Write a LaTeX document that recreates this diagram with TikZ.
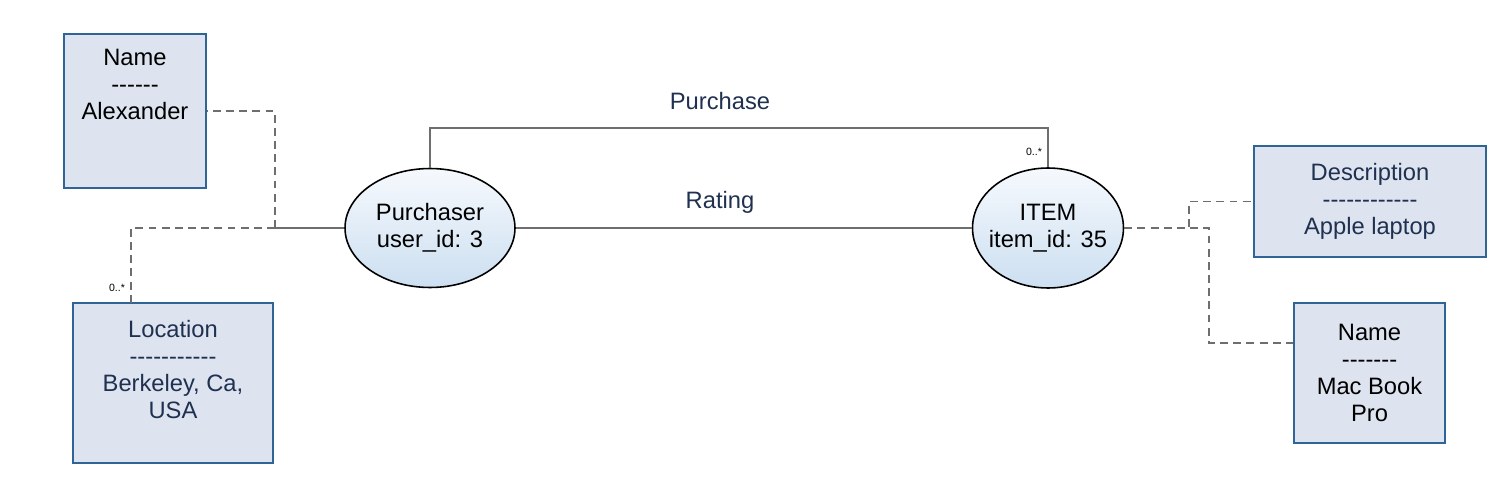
\documentclass[tikz,border=0pt]{standalone}
\usepackage{fontspec}
\setmainfont{Liberation Sans}[Ligatures=TeXOff]
\usetikzlibrary{shapes.geometric}
\definecolor{boxfill}{HTML}{DDE4EF}
\definecolor{boxline}{HTML}{2F6497}
\definecolor{navy}{HTML}{1F3050}
\definecolor{wire}{HTML}{6E6E6E}
\definecolor{ovaltop}{HTML}{F6F9FD}
\definecolor{ovalbot}{HTML}{CCDFF1}
\tikzset{
  attrbox/.style={draw=boxline, line width=1.1pt, fill=boxfill, align=center, inner sep=0pt},
  entity/.style={ellipse, draw=black, line width=0.9pt, top color=ovaltop, bottom color=ovalbot, align=center, inner xsep=-8pt, inner ysep=0pt},
  link/.style={draw=wire, line width=0.7pt},
  dashlink/.style={link, dash pattern=on 4.5pt off 3pt},
  mult/.style={font=\fontsize{6}{7}\selectfont, inner sep=0pt}
}
\begin{document}
\begin{tikzpicture}[x=0.02cm, y=-0.02cm, font=\fontsize{13.5}{15.3}\selectfont]
				\useasboundingbox (0,0) rectangle (1508,483);
				% entities
				\node[entity, minimum width=3.4cm, minimum height=2.38cm] (purchaser) at (430,228) {Purchaser\\user\_id: 3};
				\node[entity, minimum width=3.02cm, minimum height=2.4cm] (item) at (1048,228) {ITEM\\item\_id: 35};
				% attribute boxes
				\node[attrbox, minimum width=2.84cm, minimum height=3.08cm] (name) at (135,111) {Name\\------\\Alexander\\~\\~};
				\node[attrbox, minimum width=4cm, minimum height=3.2cm, text=navy] (location) at (173,383) {Location\\-----------\\Berkeley, Ca,\\USA\\~};
				\node[attrbox, minimum width=4.64cm, minimum height=2.22cm, text=navy] (descr) at (1370,201.5) {Description\\------------\\Apple laptop};
				\node[attrbox, minimum width=3.02cm, minimum height=2.8cm] (itemname) at (1369.5,373) {Name\\-------\\Mac Book\\Pro};
				% joints
				\coordinate (lj) at (275,228);
				\coordinate (rja) at (1189,228);
				\coordinate (rjb) at (1209,228);
				\coordinate (rjc) at (1209,343);
				% relations
				\draw[link] (purchaser.north) -- (430,128) -| (item.north);
				\draw[link] (purchaser.east) -- (item.west);
				\draw[link] (purchaser.west) -- (lj);
				\draw[dashlink] (lj) |- (name.east);
				\draw[dashlink] (lj) -- (131,228) -- (131,303);
				\draw[dashlink] (item.east) -- (rja) |- (descr.west);
				\draw[dashlink] (item.east) -- (rjb) -- (rjc) -- (itemname.west |- rjc);
				% labels
				\node[text=navy] (purchaselbl) at (720,101) {Purchase};
				\node[text=navy] (ratinglbl) at (720,202) {Rating};
				\node[mult] (multitem) at (1034,152) {0..*};
				\node[mult] (multloc) at (117,288) {0..*};
			\end{tikzpicture}
\end{document}
